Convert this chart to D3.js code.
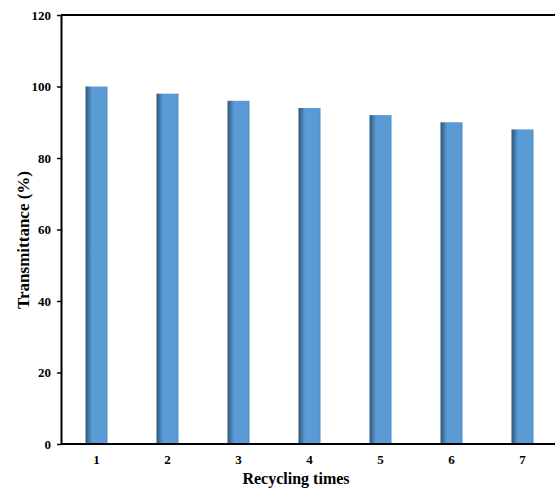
<!DOCTYPE html>
<html><head><meta charset="utf-8">
<script src="https://cdn.jsdelivr.net/npm/d3@7"></script>
<style>body{margin:0;background:#fff}svg{display:block}</style>
</head><body>
<script>
const categories = ["1","2","3","4","5","6","7"];
const values = [100, 98, 96, 94, 92, 90, 88];
const yTicks = [0, 20, 40, 60, 80, 100, 120];

const W = 555, H = 488;
const m = {left: 61, top: 15, right: -3, bottom: 44};
const svg = d3.select("body").append("svg").attr("width", W).attr("height", H);

const defs = svg.append("defs");
const g1 = defs.append("linearGradient").attr("id","barg").attr("x1","0").attr("x2","1").attr("y1","0").attr("y2","0");
g1.append("stop").attr("offset","0").attr("stop-color","#2f5678");
g1.append("stop").attr("offset","0.3").attr("stop-color","#5b9bd5");
g1.append("stop").attr("offset","0.9").attr("stop-color","#5b9bd5");
g1.append("stop").attr("offset","1").attr("stop-color","#4f8cc4");

const x = d3.scaleBand().domain(categories).range([m.left, W - m.right]).paddingInner(0.69).paddingOuter(0.345);
const y = d3.scaleLinear().domain([0, 120]).range([H - m.bottom, m.top]);

svg.append("g").selectAll("rect").data(values).join("rect")
  .attr("x", (d,i) => x(categories[i]))
  .attr("width", x.bandwidth())
  .attr("y", d => y(d))
  .attr("height", d => y(0) - y(d))
  .attr("fill", "url(#barg)");

const font = "'Liberation Serif', 'Times New Roman', serif";

// top border
svg.append("line").attr("x1", m.left).attr("x2", W).attr("y1", y(120)).attr("y2", y(120))
  .attr("stroke", "#000").attr("stroke-width", 2);

const ya = svg.append("g").attr("transform", `translate(${m.left},0)`)
  .call(d3.axisLeft(y).tickValues(yTicks).tickSize(4).tickSizeOuter(0).tickPadding(6));
ya.select(".domain").attr("stroke-width", 2);
ya.selectAll(".tick line").attr("stroke-width", 1.5);
ya.selectAll("text").attr("font-family", font).attr("font-weight", "bold").attr("font-size", 13).attr("fill","#000");

const xa = svg.append("g").attr("transform", `translate(0,${y(0)})`)
  .call(d3.axisBottom(x).tickSize(0).tickSizeOuter(0).tickPadding(11));
xa.select(".domain").attr("stroke-width", 2).attr("d", `M${m.left},0H${W}`);
xa.selectAll("text").attr("font-family", font).attr("font-weight", "bold").attr("font-size", 13).attr("fill","#000");

svg.append("text").attr("x", 296).attr("y", 484).attr("text-anchor","middle")
  .attr("font-family", font).attr("font-weight","bold").attr("font-size", 16).text("Recycling times");

svg.append("text").attr("transform", "translate(29,240) rotate(-90)").attr("text-anchor","middle")
  .attr("font-family", font).attr("font-weight","bold").attr("font-size", 17).text("Transmittance (%)");
</script>
</body></html>
